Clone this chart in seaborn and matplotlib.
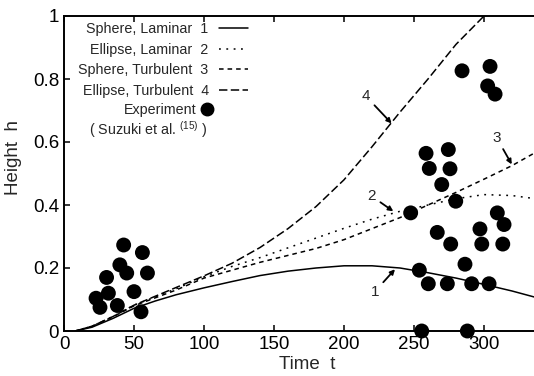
import matplotlib
matplotlib.use("Agg")
import matplotlib.pyplot as plt
import pandas as pd
import seaborn as sns
from matplotlib.lines import Line2D

# ---- model curves: rise height h versus time t ----
t_model = [8, 20, 35, 50, 65, 80, 100, 120, 140, 160, 180, 200, 220, 240, 260, 280, 300, 320, 340]
h_sphere_laminar = [0.0, 0.012, 0.040, 0.072, 0.095, 0.115, 0.137, 0.157, 0.176, 0.190, 0.200,
                    0.207, 0.207, 0.200, 0.185, 0.168, 0.148, 0.127, 0.103]
h_ellipse_laminar = [0.0, 0.015, 0.046, 0.082, 0.108, 0.134, 0.172, 0.205, 0.233, 0.264, 0.295,
                     0.326, 0.355, 0.380, 0.400, 0.420, 0.433, 0.430, 0.418]
h_sphere_turbulent = [0.0, 0.015, 0.045, 0.080, 0.105, 0.130, 0.168, 0.193, 0.218, 0.240, 0.262,
                      0.290, 0.325, 0.360, 0.400, 0.440, 0.482, 0.525, 0.575]
h_ellipse_turbulent = [0.0, 0.015, 0.046, 0.082, 0.110, 0.138, 0.175, 0.215, 0.265, 0.325, 0.395,
                       0.480, 0.585, 0.695, 0.800, 0.910, 1.000, 1.100, 1.200]

model_names = ["Sphere, Laminar", "Ellipse, Laminar", "Sphere, Turbulent", "Ellipse, Turbulent"]
model_numbers = ["1", "2", "3", "4"]

# ---- experiment (Suzuki et al.) ----
t_exp = [22.9, 25.7, 30.4, 31.7, 38.1, 39.9, 42.6, 44.8, 50.0, 55.0, 56.0, 59.6,
         284.3, 304.3, 302.6, 307.9, 258.6, 274.5, 260.9, 275.7, 269.8, 279.8, 247.6,
         309.5, 314.3, 297.1, 266.6, 276.2, 298.4, 313.4, 286.4, 253.8, 260.2, 273.8,
         291.2, 303.6, 255.5, 288.1]
h_exp = [0.104, 0.075, 0.170, 0.120, 0.081, 0.210, 0.273, 0.184, 0.125, 0.061, 0.249, 0.184,
         0.826, 0.840, 0.778, 0.752, 0.564, 0.576, 0.516, 0.515, 0.465, 0.412, 0.375,
         0.375, 0.338, 0.324, 0.313, 0.276, 0.276, 0.276, 0.212, 0.193, 0.150, 0.150,
         0.150, 0.150, 0.0, 0.0]

x_ticks = [0, 50, 100, 150, 200, 250, 300]
y_ticks = [0, 0.2, 0.4, 0.6, 0.8, 1.0]
y_tick_labels = ["0", "0.2", "0.4", "0.6", "0.8", "1"]

sns.set_theme(style="ticks")
plt.rcParams["font.family"] = ["Liberation Sans", "DejaVu Sans"]
plt.rcParams["mathtext.fontset"] = "custom"
plt.rcParams["mathtext.rm"] = "Liberation Sans"
plt.rcParams["mathtext.it"] = "Liberation Sans:italic"

curves = pd.DataFrame({
    "t": t_model * 4,
    "h": h_sphere_laminar + h_ellipse_laminar + h_sphere_turbulent + h_ellipse_turbulent,
    "model": sum([[m] * len(t_model) for m in model_names], []),
})

dash_styles = {
    "Sphere, Laminar": "",
    "Ellipse, Laminar": (1.2, 3.6),
    "Sphere, Turbulent": (3.0, 2.6),
    "Ellipse, Turbulent": (5.5, 2.2),
}
palette = {m: "black" for m in model_names}

fig = plt.figure(figsize=(5.34, 3.76), dpi=100)
ax = fig.add_axes([64 / 534, 45 / 376, 470 / 534, 315 / 376])

sns.lineplot(data=curves, x="t", y="h", hue="model", style="model", palette=palette,
             dashes=dash_styles, linewidth=1.1, legend=False, ax=ax, sort=False)
sns.scatterplot(x=t_exp, y=h_exp, color="black", s=115, edgecolor="none", linewidth=0,
                clip_on=False, zorder=5, legend=False, ax=ax)

ax.set_xlim(0, 335.7)
ax.set_ylim(0, 1.0)
ax.set_xticks(x_ticks)
ax.set_xticklabels([str(v) for v in x_ticks])
ax.set_yticks(y_ticks)
ax.set_yticklabels(y_tick_labels)
ax.tick_params(direction="in", length=4, width=1.1, top=True, right=False,
               labelsize=13.5, pad=3.5, colors="black")
for side in ["left", "bottom", "top"]:
    ax.spines[side].set_linewidth(1.4)
    ax.spines[side].set_color("black")
ax.spines["right"].set_visible(False)

ax.set_xlabel("Time  t", fontsize=13.5)
ax.set_ylabel("Height  h", fontsize=13.5)
ax.xaxis.set_label_coords(0.517, -0.08)
ax.yaxis.set_label_coords(-0.09, 0.55)

# curve labels with arrows
curve_labels = [
    ("4", (234.0, 0.659), (215.7, 0.745)),
    ("3", (319.8, 0.529), (309.0, 0.614)),
    ("2", (235.2, 0.380), (219.8, 0.428)),
    ("1", (236.4, 0.196), (222.0, 0.125)),
]
for num, tip, lab in curve_labels:
    ax.annotate(num, xy=tip, xytext=lab, ha="center", va="center", fontsize=11,
                arrowprops=dict(arrowstyle="-|>", color="black", lw=1.3,
                                mutation_scale=7, shrinkA=1, shrinkB=0))

# legend: model curves
handles = []
for m in model_names:
    if dash_styles[m]:
        handles.append(Line2D([], [], color="black", lw=1.1, dashes=dash_styles[m]))
    else:
        handles.append(Line2D([], [], color="black", lw=1.1, linestyle="-"))
labels = [f"{m}  {n}" for m, n in zip(model_names, model_numbers)]
leg1 = ax.legend(handles, labels, loc="upper right",
                 bbox_to_anchor=((248 - 64) / 470, (331 - 22) / 315),
                 markerfirst=False, frameon=False, fontsize=10.3, handlelength=2.0,
                 handletextpad=0.75, labelspacing=0.47, borderpad=0, borderaxespad=0)
ax.add_artist(leg1)

# legend: experiment
exp_handle = Line2D([], [], color="black", marker="o", linestyle="none", markersize=9)
ax.legend([exp_handle], ["Experiment"], loc="upper right",
          bbox_to_anchor=((213 - 64) / 470, (331 - 103) / 315),
          markerfirst=False, frameon=False, fontsize=10.3, handlelength=0.9,
          handletextpad=0.25, borderpad=0, borderaxespad=0)
ax.text((207 - 64) / 470, (331 - 130) / 315, r"( Suzuki et al. $^{(15)}$ )",
        transform=ax.transAxes, ha="right", va="center", fontsize=10.3)

fig.savefig("out.png", dpi=100)
